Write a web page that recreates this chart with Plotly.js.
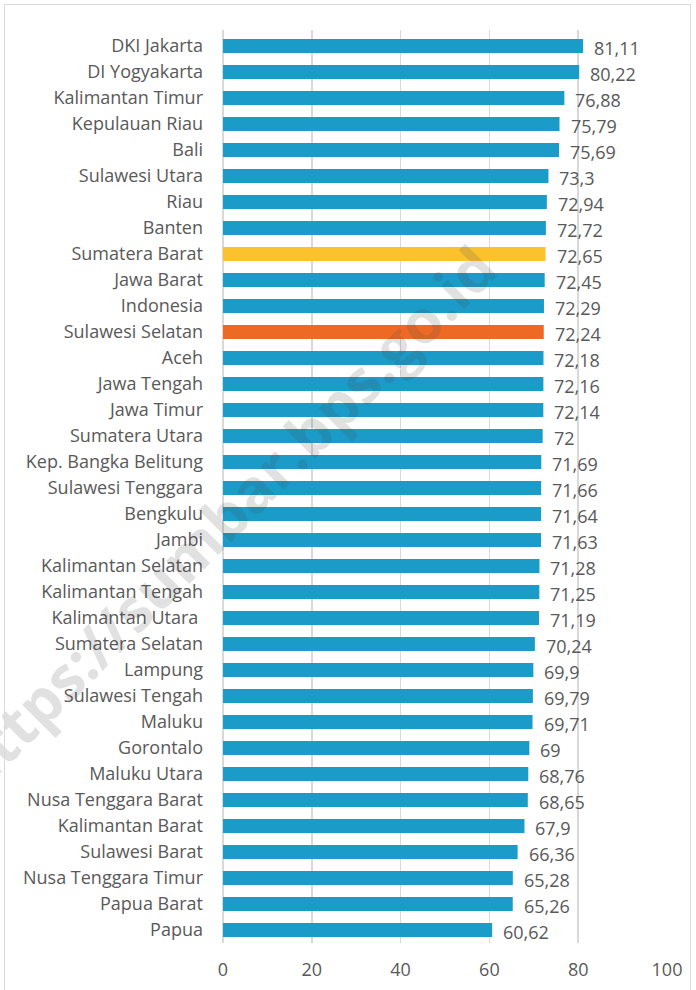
<!DOCTYPE html>
<html>
<head>
<meta charset="utf-8">
<script src="https://cdn.plot.ly/plotly-3.0.1.min.js"></script>
<style>
  html, body { margin: 0; padding: 0; background: #fff; }
  #wrap { position: relative; width: 696px; height: 990px; overflow: hidden; }
  #chart { width: 696px; height: 990px; }
  #frame { position: absolute; left: 4px; top: 4px; width: 687px; height: 1000px;
           border: 1.5px solid #d9d9d9; pointer-events: none; box-sizing: border-box; }
</style>
</head>
<body>
<div id="wrap">
  <div id="chart"></div>
  <div id="frame"></div>
</div>
<script>
const provinces = [
  "DKI Jakarta", "DI Yogyakarta", "Kalimantan Timur", "Kepulauan Riau", "Bali",
  "Sulawesi Utara", "Riau", "Banten", "Sumatera Barat", "Jawa Barat",
  "Indonesia", "Sulawesi Selatan", "Aceh", "Jawa Tengah", "Jawa Timur",
  "Sumatera Utara", "Kep. Bangka Belitung", "Sulawesi Tenggara", "Bengkulu", "Jambi",
  "Kalimantan Selatan", "Kalimantan Tengah", "Kalimantan Utara\u00a0", "Sumatera Selatan", "Lampung",
  "Sulawesi Tengah", "Maluku", "Gorontalo", "Maluku Utara", "Nusa Tenggara Barat",
  "Kalimantan Barat", "Sulawesi Barat", "Nusa Tenggara Timur", "Papua Barat", "Papua"
];
const values = [
  81.11, 80.22, 76.88, 75.79, 75.69,
  73.3, 72.94, 72.72, 72.65, 72.45,
  72.29, 72.24, 72.18, 72.16, 72.14,
  72, 71.69, 71.66, 71.64, 71.63,
  71.28, 71.25, 71.19, 70.24, 69.9,
  69.79, 69.71, 69, 68.76, 68.65,
  67.9, 66.36, 65.28, 65.26, 60.62
];
const xTicks = [0, 20, 40, 60, 80, 100];
const watermark = "https://sumbar.bps.go.id";

const BLUE = "#1a9bc8", YELLOW = "#fbc22e", ORANGE = "#ee6a24";
const colors = provinces.map(p => p === "Sumatera Barat" ? YELLOW : (p === "Sulawesi Selatan" ? ORANGE : BLUE));
const labels = values.map(v => String(v).replace(".", ","));

const FONT = "'Open Sans', 'Noto Sans', sans-serif";
const GREY = "#595959";

const trace = {
  type: "bar",
  orientation: "h",
  y: provinces,
  x: values,
  marker: { color: colors, line: { width: 0 } },
  hoverinfo: "skip"
};

const annotations = values.map((v, i) => ({
  x: v, y: provinces[i], xref: "x", yref: "y",
  text: labels[i], showarrow: false,
  xanchor: "left", yanchor: "middle", xshift: 9, yshift: -2,
  font: { family: FONT, size: 18, color: GREY }
}));
annotations.push({
  xref: "paper", yref: "paper", x: 0.0, y: 0.465,
  xanchor: "center", yanchor: "middle",
  text: "<b>" + watermark + "</b>", showarrow: false, textangle: -45,
  font: { family: FONT, size: 60, color: "rgba(80,80,80,0.17)" }
});

const layout = {
  width: 696, height: 990,
  margin: { l: 223, r: 29, t: 30, b: 47 },
  paper_bgcolor: "#ffffff", plot_bgcolor: "#ffffff",
  showlegend: false,
  bargap: 0.46,
  xaxis: {
    range: [0, 100], tickvals: xTicks, ticktext: xTicks.map(String),
    showgrid: true, gridcolor: "#d9d9d9", gridwidth: 1.5,
    zeroline: true, zerolinecolor: "#d9d9d9", zerolinewidth: 1.5,
    showline: false, ticks: "", ticklabelstandoff: 14,
    tickfont: { family: FONT, size: 18, color: GREY }, fixedrange: true
  },
  yaxis: {
    type: "category", categoryorder: "array", categoryarray: provinces,
    autorange: "reversed", showgrid: false, zeroline: false, showline: false,
    ticks: "", ticklabelstandoff: 19,
    tickfont: { family: FONT, size: 18, color: GREY }, fixedrange: true
  },
  annotations: annotations
};

Plotly.newPlot("chart", [trace], layout, { displayModeBar: false, staticPlot: true });
</script>
</body>
</html>
